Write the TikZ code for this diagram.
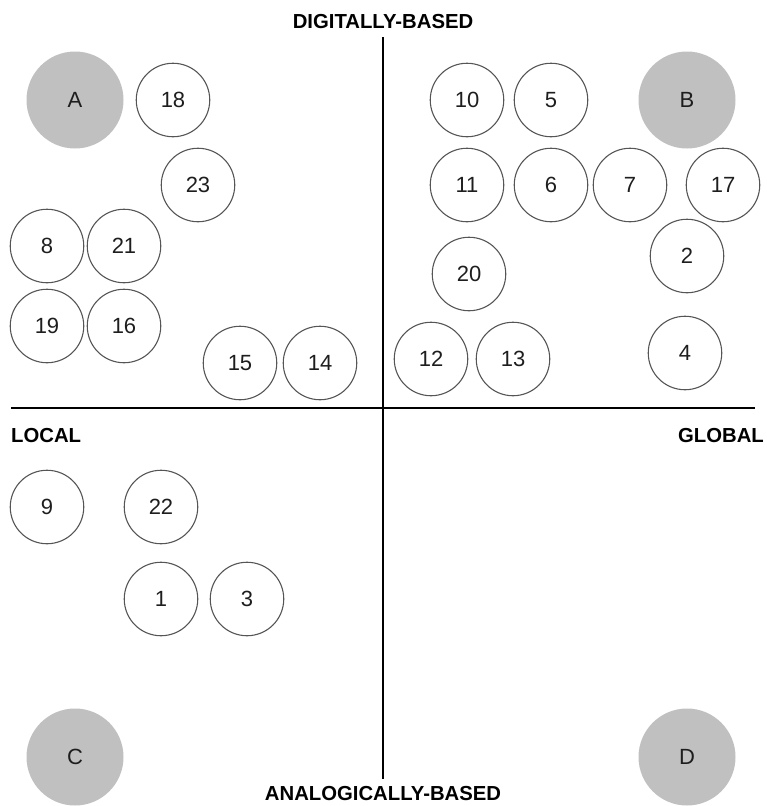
\documentclass[tikz,border=0pt]{standalone}
\usepackage{fontspec}
\setmainfont{Liberation Sans}
\definecolor{quad}{RGB}{192,192,192}
\definecolor{ring}{RGB}{85,85,85}
\definecolor{ink}{RGB}{30,30,30}
\begin{document}
\begin{tikzpicture}[x=1pt,y=-1pt,
  item/.style={circle,draw=ring,line width=1.1pt,minimum size=73.5pt,inner sep=0pt,text=ink,font=\fontsize{22}{22}\selectfont},
  pole/.style={circle,fill=quad,minimum size=97pt,inner sep=0pt,text=ink,font=\fontsize{22}{22}\selectfont},
  axisline/.style={line width=2.6pt,black},
  lab/.style={inner sep=0pt,text=black,font=\bfseries\fontsize{20.3}{21}\selectfont}]
\useasboundingbox (0,0) rectangle (766,806);
% axes
\coordinate (top) at (383,37);
\coordinate (bot) at (383,779);
\coordinate (left) at (11,408);
\coordinate (right) at (755,408);
\draw[axisline] (top) -- (bot);
\draw[axisline] (left) -- (right);
% axis labels
\node[lab] (dig) at (383,22) {DIGITALLY-BASED};
\node[lab] (ana) at (383,794) {ANALOGICALLY-BASED};
\node[lab,anchor=west] (loc) at (11,436) {LOCAL};
\node[lab,anchor=east] (glo) at (764,436) {GLOBAL};
% poles
\node[pole] (A) at (75,100) {A};
\node[pole] (B) at (687,100) {B};
\node[pole] (C) at (75,757) {C};
\node[pole] (D) at (687,757) {D};
% items, upper left
\node[item] (n18) at (173,100) {18};
\node[item] (n23) at (198,185) {23};
\node[item] (n8) at (47,246) {8};
\node[item] (n21) at (124,246) {21};
\node[item] (n19) at (47,326) {19};
\node[item] (n16) at (124,326) {16};
\node[item] (n15) at (240,363) {15};
\node[item] (n14) at (320,363) {14};
% items, upper right
\node[item] (n10) at (467,100) {10};
\node[item] (n5) at (551,100) {5};
\node[item] (n11) at (467,185) {11};
\node[item] (n6) at (551,185) {6};
\node[item] (n7) at (630,185) {7};
\node[item] (n17) at (723,185) {17};
\node[item] (n2) at (687,256) {2};
\node[item] (n20) at (469,274) {20};
\node[item] (n12) at (431,359) {12};
\node[item] (n13) at (513,359) {13};
\node[item] (n4) at (685,353) {4};
% items, lower left
\node[item] (n9) at (47,507) {9};
\node[item] (n22) at (161,507) {22};
\node[item] (n1) at (161,599) {1};
\node[item] (n3) at (247,599) {3};
\end{tikzpicture}
\end{document}
